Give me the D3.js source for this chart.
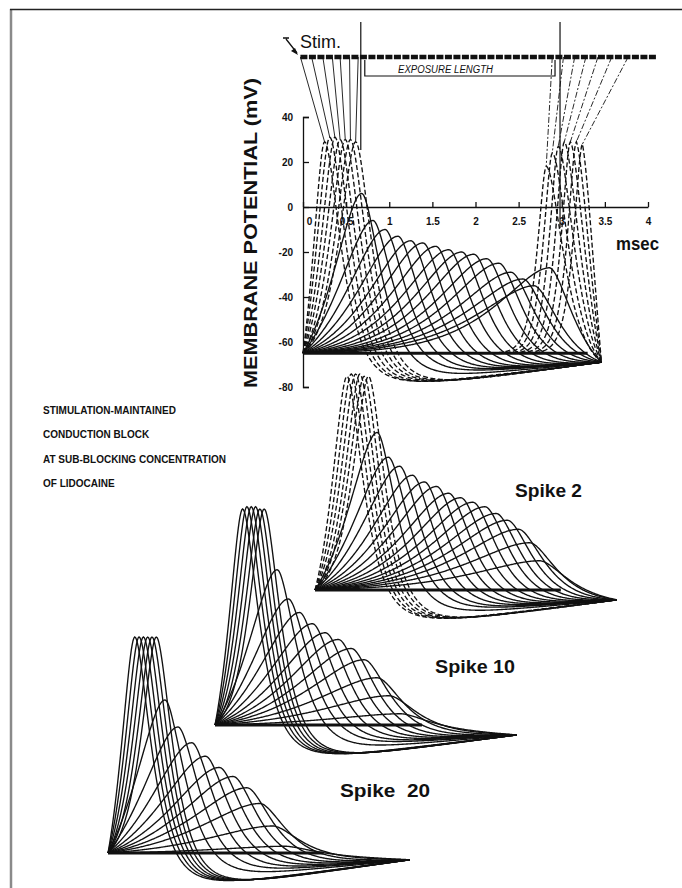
<!DOCTYPE html>
<html>
<head>
<meta charset="utf-8">
<title>Stimulation-maintained conduction block</title>
<script src="https://cdn.jsdelivr.net/npm/d3@7"></script>
<style>
    body { margin: 0; background: #fff; }
    svg text { font-family: "Liberation Sans", Arial, sans-serif; fill: #111; }
    .trace { fill: none; stroke: #111; stroke-width: 1.35; }
    .dashed { stroke-dasharray: 5,2.5; }
    .axis path, .axis line { stroke: #111; stroke-width: 1.3; }
    .axis text { font-size: 10px; font-weight: bold; fill: #111; }
    .caption { font-size: 10px; font-weight: bold; }
    .spike-label { font-size: 19px; font-weight: bold; }
</style>
</head>
<body>
<svg id="chart" width="682" height="888"></svg>
<script>
    var restMv = -65;
    var yTicks = [-80, -60, -40, -20, 0, 20, 40];
    var xTicks = [0, 0.5, 1, 1.5, 2, 2.5, 3, 3.5, 4];

    // Spike 1 (top panel) - peak time (msec) and peak potential (mV) of each node
    var s1PreT   = [0.25, 0.31, 0.37, 0.43, 0.49, 0.55, 0.61];
    var s1PreV   = [29, 31, 31, 30, 30, 30, 29];
    var s1BlockT = [0.68, 0.81, 0.95, 1.10, 1.25, 1.39, 1.54, 1.69, 1.84, 1.98, 2.13, 2.27, 2.41, 2.55, 2.68, 2.86];
    var s1BlockV = [6, -6, -10, -13, -15, -16, -17.5, -19, -20, -21, -23, -25, -29, -32, -35, -27];
    var s1PostT  = [2.82, 2.89, 2.96, 3.03, 3.10, 3.17, 3.24];
    var s1PostV  = [18, 24, 27, 29, 29, 29, 28];
    var s1PostRise = 0.07;   // regenerated spikes rise fast (msec)
    var s1PreNodes  = [-0.03, 0.10, 0.23, 0.34, 0.43, 0.54, 0.64];
    var s1PostNodes = [2.89, 3.02, 3.15, 3.28, 3.42, 3.58, 3.77];
    var s1End = [3.46, -69];
    var s1RestEnd = 3.3;
    var exposure = [0.67, 2.98];
    var axonSpan = [-0.03, 4.1];

    // Spike 2
    var s2PreT   = [0.37, 0.42, 0.47, 0.52, 0.57, 0.62];
    var s2PreV   = [30, 31, 31, 31, 30, 30];
    var s2BlockT = [0.72, 0.85, 0.98, 1.13, 1.27, 1.41, 1.55, 1.69, 1.83, 1.97, 2.10, 2.23, 2.36, 2.49, 2.61];
    var s2BlockV = [5, -6, -10, -14, -17, -19, -22, -24, -26, -28, -31, -34, -38, -44, -52];
    var s2End = [3.50, -69.4];
    var s2RestEnd = 2.85;

    // Spike 10
    var s10PreT   = [0.32, 0.37, 0.42, 0.47, 0.52, 0.57];
    var s10PreV   = [31, 32, 32, 32, 31, 31];
    var s10BlockT = [0.72, 0.85, 0.98, 1.13, 1.28, 1.43, 1.58, 1.73, 1.88, 2.02, 2.16];
    var s10BlockV = [4, -9, -15, -20, -24, -27, -31, -36, -44, -52, -60];
    var s10End = [3.50, -69.4];
    var s10RestEnd = 2.4;

    // Spike 20
    var s20PreT   = [0.31, 0.36, 0.41, 0.46, 0.51, 0.56];
    var s20PreV   = [31, 31, 31, 31, 31, 31];
    var s20BlockT = [0.66, 0.81, 0.97, 1.13, 1.29, 1.45, 1.61, 1.76, 1.91, 2.06];
    var s20BlockV = [3, -9, -16, -22, -27, -31, -36, -43, -53, -62];
    var s20End = [3.50, -68];
    var s20RestEnd = 2.5;

    var captionLines = ["STIMULATION-MAINTAINED", "CONDUCTION BLOCK",
                        "AT SUB-BLOCKING CONCENTRATION", "OF LIDOCAINE"];

    var svg = d3.select("#chart");

    // frame of the scanned page
    svg.append("line").attr("x1", 11).attr("x2", 11).attr("y1", 9).attr("y2", 888)
        .attr("stroke", "#8a8a8a").attr("stroke-width", 2.5);
    svg.append("line").attr("x1", 10).attr("x2", 682).attr("y1", 9.5).attr("y2", 9.5)
        .attr("stroke", "#222").attr("stroke-width", 1.5);

    //shape of one node's response: rounded peak, decay, undershoot, then drift to the common end point
    function phi(x) { return (1 + x) * Math.exp(-x); }
    function waveform(tp, vp, end, rise) {
        var te = end[0], ve = end[1];
        var amp = vp - restMv;
        var k = Math.max(0, 1 - amp / 96);
        var tauR = rise || Math.min(tp / 2.4, 0.12 + 0.5 * k),
            tauF = 0.12 + 0.1 * k, tauU = 0.25;
        var under = 0.2 * amp;
        var pR = phi(tp / tauR);
        function fall(t) {
            return restMv + amp * phi((t - tp) / tauF) - under * (1 - phi((t - tp) / tauU));
        }
        var corr = fall(te) - ve;
        var pts = [];
        for (var i = 0; i <= Math.round(te * 100); i++) {
            var t = Math.min(i / 100, te), v;
            if (t <= tp) v = restMv + amp * (phi((tp - t) / tauR) - pR) / (1 - pR);
            else v = fall(t) - corr * (t - tp) / (te - tp);
            pts.push([t, v]);
        }
        return pts;
    }

    function panelScales(ox, oy) {
        return {
            x: d3.scaleLinear().domain([0, 4]).range([ox, ox + 345]),
            y: d3.scaleLinear().domain([-80, 40]).range([oy + 33.75, oy - 236.25])
        };
    }

    function drawTraces(g, sc, groups, end, restEnd) {
        var line = d3.line().x(function(d) { return sc.x(d[0]); })
                            .y(function(d) { return sc.y(d[1]); });
        g.append("line")
            .attr("x1", sc.x(0)).attr("x2", sc.x(restEnd))
            .attr("y1", sc.y(restMv)).attr("y2", sc.y(restMv))
            .attr("stroke", "#111").attr("stroke-width", 3.2);
        groups.forEach(function(grp) {
            grp.t.forEach(function(tp, i) {
                g.append("path")
                    .datum(waveform(tp, grp.v[i], end, grp.rise))
                    .attr("class", grp.dashed ? "trace dashed" : "trace")
                    .attr("d", line);
            });
        });
    }

    // lower panels
    var lower = [
        {label: "Spike 2", ox: 315, oy: 590, lx: 515, ly: 497, lw: 67, restEnd: s2RestEnd,
         groups: [{t: s2PreT, v: s2PreV, dashed: true}, {t: s2BlockT, v: s2BlockV}], end: s2End},
        {label: "Spike 10", ox: 215, oy: 725, lx: 435, ly: 673, lw: 80, restEnd: s10RestEnd,
         groups: [{t: s10PreT, v: s10PreV}, {t: s10BlockT, v: s10BlockV}], end: s10End},
        {label: "Spike  20", ox: 108, oy: 853, lx: 340, ly: 797, lw: 90, restEnd: s20RestEnd,
         groups: [{t: s20PreT, v: s20PreV}, {t: s20BlockT, v: s20BlockV}], end: s20End}
    ];
    lower.forEach(function(p) {
        var g = svg.append("g");
        drawTraces(g, panelScales(p.ox, p.oy), p.groups, p.end, p.restEnd);
        svg.append("text").attr("class", "spike-label")
            .attr("x", p.lx).attr("y", p.ly)
            .attr("textLength", p.lw).attr("lengthAdjust", "spacingAndGlyphs")
            .style("white-space", "pre")
            .text(p.label);
    });

    // top panel
    var topX = d3.scaleLinear().domain([0, 4]).range([303, 648]);
    var topY = d3.scaleLinear().domain([-80, 40]).range([387, 117]);
    var panel1 = svg.append("g");
    drawTraces(panel1, {x: topX, y: topY},
        [{t: s1PreT, v: s1PreV, dashed: true},
         {t: s1BlockT, v: s1BlockV},
         {t: s1PostT, v: s1PostV, dashed: true, rise: s1PostRise}], s1End, s1RestEnd);

    panel1.append("g").attr("class", "axis")
        .attr("transform", "translate(303,0)")
        .call(d3.axisLeft(topY).tickValues(yTicks).tickSize(-6).tickPadding(10)
            .tickFormat(function(d) { return String(d); }));
    panel1.append("g").attr("class", "axis")
        .attr("transform", "translate(0," + topY(0) + ")")
        .call(d3.axisBottom(topX).tickValues(xTicks).tickSize(-5).tickSizeOuter(0).tickPadding(11)
            .tickFormat(function(d) { return String(d); }))
        .call(function(g) {
            g.selectAll(".tick text").filter(function(d) { return d === 0; }).attr("dx", 6);
        });

    // axon with nodes, stimulus and the fan lines down to each node's peak
    var axonY = 57;
    panel1.append("line")
        .attr("x1", topX(axonSpan[0])).attr("x2", topX(axonSpan[1]))
        .attr("y1", axonY).attr("y2", axonY)
        .attr("stroke", "#111").attr("stroke-width", 4.5).attr("stroke-dasharray", "7,1.5");
    s1PreNodes.forEach(function(n, i) {
        panel1.append("line").attr("x1", topX(n)).attr("y1", axonY)
            .attr("x2", topX(s1PreT[i])).attr("y2", topY(s1PreV[i]))
            .attr("stroke", "#111").attr("stroke-width", 0.9);
    });
    s1PostNodes.forEach(function(n, i) {
        panel1.append("line").attr("x1", topX(n)).attr("y1", axonY)
            .attr("x2", topX(s1PostT[i])).attr("y2", topY(s1PostV[i]))
            .attr("stroke", "#111").attr("stroke-width", 0.9).attr("stroke-dasharray", "6,2,2,2");
    });
    // exposure markers
    panel1.append("line").attr("x1", topX(exposure[0])).attr("x2", topX(exposure[0]))
        .attr("y1", 22).attr("y2", 150).attr("stroke", "#111").attr("stroke-width", 1.2);
    panel1.append("line").attr("x1", topX(exposure[1])).attr("x2", topX(exposure[1]))
        .attr("y1", 22).attr("y2", 228).attr("stroke", "#111").attr("stroke-width", 1.2);
    panel1.append("path")
        .attr("d", "M" + (topX(exposure[0]) + 4) + "," + (axonY + 3) + "V76H" + (topX(exposure[1]) - 5) + "V" + (axonY + 3))
        .attr("fill", "none").attr("stroke", "#111").attr("stroke-width", 1.2);
    panel1.append("text").attr("x", 398).attr("y", 73)
        .attr("textLength", 95).attr("lengthAdjust", "spacingAndGlyphs")
        .style("font-size", "10px").style("font-style", "italic")
        .text("EXPOSURE LENGTH");

    panel1.append("text").attr("x", 300).attr("y", 48).style("font-size", "18px").text("Stim.");
    panel1.append("path").attr("d", "M283,38H289M286,39L297,53").attr("stroke", "#111")
        .attr("stroke-width", 1.3).attr("fill", "none");
    panel1.append("path").attr("d", "M298,55L291,51L295,48Z").attr("fill", "#111");

    panel1.append("text").attr("x", 616).attr("y", 250)
        .attr("textLength", 43).attr("lengthAdjust", "spacingAndGlyphs")
        .style("font-size", "18px").style("font-weight", "bold").text("msec");

    panel1.append("text")
        .attr("transform", "translate(257,233) rotate(-90)")
        .attr("text-anchor", "middle")
        .attr("textLength", 310).attr("lengthAdjust", "spacingAndGlyphs")
        .style("font-size", "18px").style("font-weight", "bold")
        .text("MEMBRANE POTENTIAL (mV)");

    // caption
    svg.selectAll(".caption").data(captionLines).enter().append("text")
        .attr("class", "caption")
        .attr("x", 43)
        .attr("y", function(d, i) { return 413.5 + i * 24.5; })
        .text(function(d) { return d; });
</script>
</body>
</html>
